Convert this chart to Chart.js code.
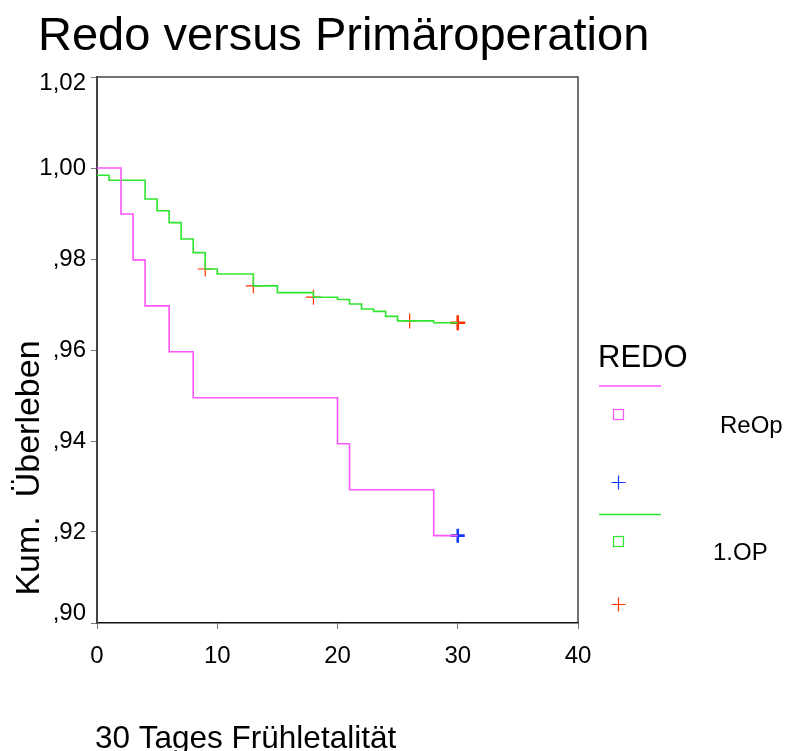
<!DOCTYPE html>
<html>
<head>
<meta charset="utf-8">
<script src="https://cdn.jsdelivr.net/npm/chart.js@4.4.1/dist/chart.umd.min.js"></script>
<style>
  html, body { margin: 0; padding: 0; background: #fff; }
  #chart { display: block; }
</style>
</head>
<body>
<canvas id="chart" width="785" height="751"></canvas>
<script>
// ReOp group (pink line, blue censor marks)
const reopTimes = [0, 2, 3, 4, 6, 8, 20, 21, 28, 30];
const reopSurv = [1.0, 0.9899, 0.9798, 0.9697, 0.9596, 0.9495, 0.9394, 0.9293, 0.9192, 0.9192];
const reopCensTimes = [30];
const reopCensSurv = [0.9192];

// 1.OP group (green line, red censor marks)
const opTimes = [0, 1, 4, 5, 6, 7, 8, 9, 10, 13, 15, 18, 20, 21, 22, 23, 24, 25, 28, 30];
const opSurv = [0.9984, 0.9973, 0.9932, 0.9906, 0.9880, 0.9844, 0.9814, 0.9778, 0.9767, 0.9741,
                0.9726, 0.9716, 0.9711, 0.9701, 0.9690, 0.9685, 0.9674, 0.9664, 0.9660, 0.9660];
const opCensTimes = [9, 13, 18, 26, 30];
const opCensSurv = [0.9778, 0.9741, 0.9716, 0.9664, 0.9660];

// axis ticks
const yTickValues = [1.02, 1.00, 0.98, 0.96, 0.94, 0.92, 0.90];
const yTickLabels = ['1,02', '1,00', ',98', ',96', ',94', ',92', ',90'];
const xTickValues = [0, 10, 20, 30, 40];

const PINK = '#ff55ff';
const GREEN = '#2ee62e';
const BLUE = '#1238ff';
const RED = '#ff3300';
const FONT = "'Liberation Sans', Arial, sans-serif";

function toPoints(xs, ys) {
    return xs.map((x, i) => ({ x: x, y: ys[i] }));
}

function drawCross(ctx, x, y, r, color, w) {
    ctx.save();
    ctx.strokeStyle = color;
    ctx.lineWidth = w;
    ctx.beginPath();
    ctx.moveTo(x - r, y); ctx.lineTo(x + r, y);
    ctx.moveTo(x, y - r); ctx.lineTo(x, y + r);
    ctx.stroke();
    ctx.restore();
}

const decorations = {
    id: 'decorations',
    afterDraw(chart) {
        const ctx = chart.ctx;
        const a = chart.chartArea;
        const yScale = chart.scales.y;
        ctx.save();

        // frame on top and right
        ctx.strokeStyle = '#444';
        ctx.lineWidth = 1.5;
        ctx.beginPath();
        ctx.moveTo(a.left, a.top);
        ctx.lineTo(a.right, a.top);
        ctx.lineTo(a.right, a.bottom);
        ctx.stroke();

        ctx.fillStyle = '#000';

        // y tick labels, kept inside the axis span like the original
        ctx.font = '24px ' + FONT;
        ctx.textAlign = 'right';
        ctx.textBaseline = 'middle';
        yTickValues.forEach((v, i) => {
            let py = yScale.getPixelForValue(v);
            py = Math.min(Math.max(py, a.top + 6), a.bottom - 10);
            ctx.fillText(yTickLabels[i], a.left - 11, py);
        });

        // main title
        ctx.textAlign = 'left';
        ctx.textBaseline = 'alphabetic';
        ctx.font = '47px ' + FONT;
        ctx.fillText('Redo versus Primäroperation', 38, 50);

        // x axis title
        ctx.font = '31.5px ' + FONT;
        ctx.fillText('30 Tages Frühletalität', 95, 748);

        // y axis title
        ctx.save();
        ctx.translate(39, 468);
        ctx.rotate(-Math.PI / 2);
        ctx.textAlign = 'center';
        ctx.font = '34px ' + FONT;
        ctx.fillText('Kum.  Überleben', 0, 0);
        ctx.restore();

        // legend
        ctx.font = '31px ' + FONT;
        ctx.fillText('REDO', 598, 367);

        ctx.lineWidth = 1.5;
        ctx.strokeStyle = PINK;
        ctx.beginPath(); ctx.moveTo(599, 386); ctx.lineTo(661, 386); ctx.stroke();
        ctx.lineWidth = 1.2;
        ctx.strokeRect(613.5, 409.5, 10, 10);
        drawCross(ctx, 618.5, 482.5, 7, BLUE, 1.2);

        ctx.lineWidth = 1.5;
        ctx.strokeStyle = GREEN;
        ctx.beginPath(); ctx.moveTo(599, 514.5); ctx.lineTo(661, 514.5); ctx.stroke();
        ctx.lineWidth = 1.2;
        ctx.strokeRect(613.5, 536.5, 10, 10);
        drawCross(ctx, 618.5, 604.5, 7, RED, 1.2);

        ctx.fillStyle = '#000';
        ctx.font = '24px ' + FONT;
        ctx.fillText('ReOp', 720, 433);
        ctx.fillText('1.OP', 713, 560);

        ctx.restore();
    }
};

new Chart(document.getElementById('chart'), {
    type: 'scatter',
    data: {
        datasets: [
            {
                label: 'ReOp',
                data: toPoints(reopTimes, reopSurv),
                showLine: true,
                stepped: true,
                borderColor: PINK,
                borderWidth: 1.6,
                pointRadius: 0,
                fill: false
            },
            {
                label: '1.OP',
                data: toPoints(opTimes, opSurv),
                showLine: true,
                stepped: true,
                borderColor: GREEN,
                borderWidth: 1.6,
                pointRadius: 0,
                fill: false
            },
            {
                label: 'ReOp zensiert',
                data: toPoints(reopCensTimes, reopCensSurv),
                pointStyle: 'cross',
                pointRadius: 7,
                borderColor: BLUE,
                borderWidth: 2.6
            },
            {
                label: '1.OP zensiert',
                data: toPoints(opCensTimes, opCensSurv),
                pointStyle: 'cross',
                pointRadius: 7.5,
                borderColor: RED,
                borderWidth: opCensTimes.map(t => t === 30 ? 2.6 : 1.2)
            }
        ]
    },
    options: {
        responsive: false,
        animation: false,
        layout: { padding: { top: 77, right: 207, left: 0, bottom: 0 } },
        plugins: {
            legend: { display: false },
            tooltip: { enabled: false },
            title: { display: false }
        },
        scales: {
            x: {
                type: 'linear',
                min: 0,
                max: 40,
                afterBuildTicks: function(scale) {
                    scale.ticks = xTickValues.map(v => ({ value: v }));
                },
                afterFit: function(scale) { scale.height = 128; },
                grid: { drawOnChartArea: false, drawTicks: true, tickLength: 6, color: '#777' },
                border: { display: true, color: '#111', width: 1.5 },
                ticks: {
                    color: '#000',
                    padding: 13,
                    maxRotation: 0,
                    font: { family: FONT, size: 24 },
                    callback: function(value) { return String(value); }
                }
            },
            y: {
                type: 'linear',
                min: 0.90,
                max: 1.02,
                afterBuildTicks: function(scale) {
                    scale.ticks = yTickValues.map(v => ({ value: v }));
                },
                afterFit: function(scale) { scale.width = 97; },
                grid: { drawOnChartArea: false, drawTicks: true, tickLength: 6, color: '#777' },
                border: { display: true, color: '#444', width: 2 },
                ticks: {
                    display: false
                }
            }
        }
    },
    plugins: [decorations]
});
</script>
</body>
</html>
